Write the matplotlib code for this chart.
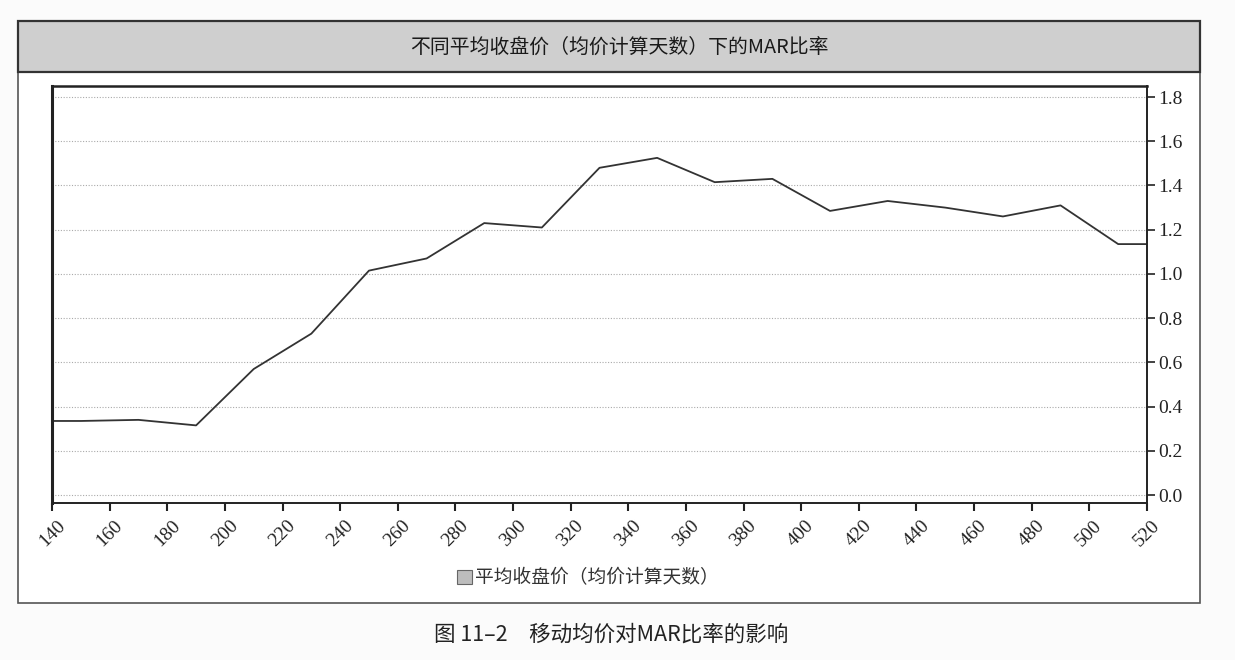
import matplotlib
matplotlib.use("Agg")
import matplotlib.pyplot as plt
from matplotlib.patches import Rectangle, Patch

# ---- data ----
days = [140, 150, 170, 190, 210, 230, 250, 270, 290, 310, 330, 350, 370,
        390, 410, 430, 450, 470, 490, 510, 520]
mar = [0.335, 0.335, 0.34, 0.315, 0.57, 0.73, 1.015, 1.07, 1.23, 1.21, 1.48,
       1.525, 1.415, 1.43, 1.285, 1.33, 1.30, 1.26, 1.31, 1.135, 1.135]
x_ticks = list(range(140, 521, 20))
y_ticks = [0.0, 0.2, 0.4, 0.6, 0.8, 1.0, 1.2, 1.4, 1.6, 1.8]
title = "不同平均收盘价（均价计算天数）下的MAR比率"
legend_label = "平均收盘价（均价计算天数）"
caption = "图 11–2　移动均价对MAR比率的影响"

W, H = 1235, 660
plt.rcParams['font.family'] = ['Noto Sans CJK SC', 'DejaVu Sans']
fig = plt.figure(figsize=(W / 100, H / 100), dpi=100)
fig.patch.set_facecolor('#fbfbfb')


def fx(px):
    return px / W


def fy(py):
    return 1 - py / H


# outer frame (white body)
fig.add_artist(Rectangle((fx(18), fy(603)), fx(1200) - fx(18), fy(21) - fy(603),
                         transform=fig.transFigure, facecolor='white',
                         edgecolor='#555555', lw=1.2, zorder=0))
# title bar
fig.add_artist(Rectangle((fx(18), fy(72)), fx(1200) - fx(18), fy(21) - fy(72),
                         transform=fig.transFigure, facecolor='#cfcfcf',
                         edgecolor='#333333', lw=1.6, zorder=1))
fig.text(fx(619), fy(47), title, ha='center', va='center', fontsize=14.3,
         color='#1a1a1a')

ax = fig.add_axes([fx(52), fy(503), fx(1147) - fx(52), fy(86) - fy(503)])
ax.plot(days, mar, color='#333333', lw=1.3)
ax.set_xlim(140, 520)
ax.set_ylim(-0.036, 1.85)
ax.set_xticks(x_ticks)
ax.set_yticks(y_ticks)
ax.set_yticklabels([f"{v:.1f}" for v in y_ticks])
ax.yaxis.tick_right()
ax.tick_params(axis='y', direction='out', length=6, width=1.2, pad=2,
               labelsize=14, colors='#222222')
ax.tick_params(axis='x', direction='out', length=6, width=1.5, pad=4,
               labelsize=14, colors='#222222')
for lab in ax.get_xticklabels() + ax.get_yticklabels():
    lab.set_family('Liberation Serif')
for lab in ax.get_xticklabels():
    lab.set_rotation(45)
    lab.set_ha('center')
for s in ax.spines.values():
    s.set_color('#222222')
    s.set_linewidth(1.4)
ax.spines['left'].set_linewidth(2.2)
ax.spines['top'].set_linewidth(1.8)
ax.grid(axis='y', color='#aaaaaa', linestyle=(0, (1, 1.5)), lw=0.8)
ax.set_axisbelow(True)

handle = Patch(facecolor='#bdbdbd', edgecolor='#666666', lw=0.8)
fig.legend(handles=[handle], labels=[legend_label], loc='center',
           bbox_to_anchor=(fx(588), fy(578)), frameon=False, fontsize=13.5,
           handlelength=0.8, handleheight=0.8, handletextpad=0.2,
           labelcolor='#333333')

fig.text(fx(611), fy(635), caption, ha='center', va='center', fontsize=15.5,
         color='#222222')

fig.savefig('out.png', dpi=100, facecolor=fig.get_facecolor())
